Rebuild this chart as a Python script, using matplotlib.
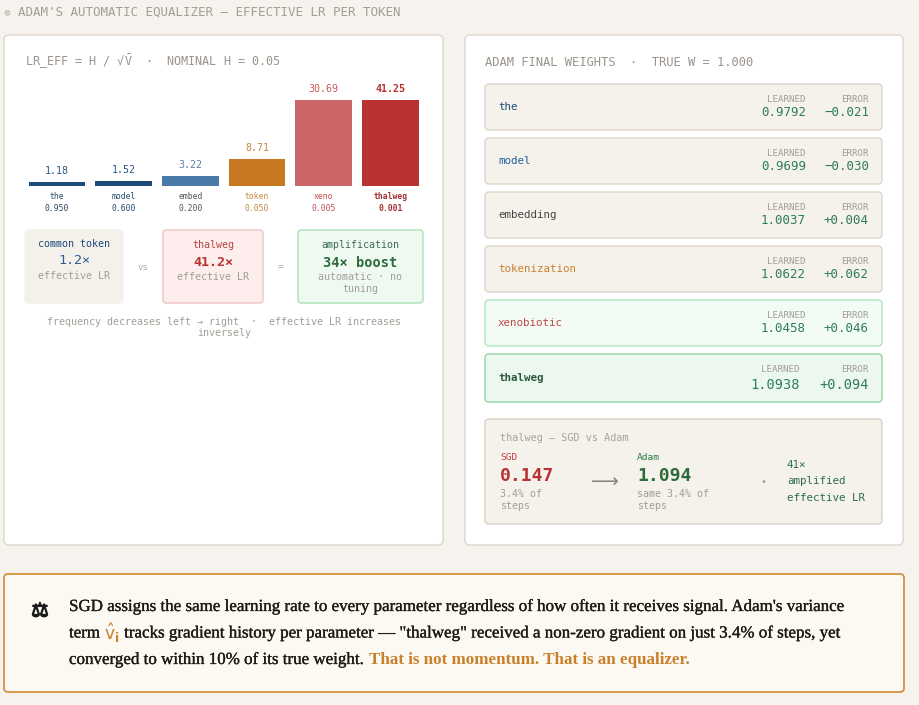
import matplotlib
matplotlib.use("Agg")
import matplotlib.pyplot as plt
from matplotlib.patches import FancyBboxPatch
import matplotlib.patheffects as pe
import numpy as np

# ---------------- data ----------------
tokens_short = ["the", "model", "embed", "token", "xeno", "thalweg"]
tokens_full = ["the", "model", "embedding", "tokenization", "xenobiotic", "thalweg"]
frequency = [0.950, 0.600, 0.200, 0.050, 0.005, 0.001]
effective_lr = [1.18, 1.52, 3.22, 8.71, 30.69, 41.25]
learned_w = [0.9792, 0.9699, 1.0037, 1.0622, 1.0458, 1.0938]
error_w = [-0.021, -0.030, 0.004, 0.062, 0.046, 0.094]
nominal_h = 0.05
true_w = 1.000
common_mult = 1.2
thalweg_mult = 41.2
boost = 34
sgd_thalweg = 0.147
adam_thalweg = 1.094
nonzero_pct = 3.4
amplified = 41

# ---------------- style ----------------
W, H = 920, 705
BG = "#f6f3ee"
MONO = ["DejaVu Sans Mono", "DejaVu Sans"]
GRAY = "#a39d95"
GREEN = "#2e7d58"
bar_colors = ["#1e4a78", "#1e4a78", "#4a7ba8", "#c87820", "#c96565", "#b83232"]
lbl_colors = ["#2a5585", "#2a5585", "#5a7fa5", "#c8873a", "#c85a5a", "#b83232"]
tick_colors = ["#2f4a68", "#2a4a72", "#555555", "#c88a40", "#c05050", "#a03030"]
name_colors = ["#1e4a78", "#2060a0", "#444444", "#c88030", "#c04848", "#2d5a3c"]
bar_cap = 27.7  # display cap of the bar axis

fig = plt.figure(figsize=(W / 100, H / 100), dpi=100)
fig.patch.set_facecolor(BG)
ax = fig.add_axes([0, 0, 1, 1])
ax.set_xlim(0, W)
ax.set_ylim(H, 0)
ax.axis("off")


def rbox(x0, y0, x1, y1, fc, ec, r=4, lw=1.0):
    p = FancyBboxPatch((x0, y0), x1 - x0, y1 - y0,
                       boxstyle=f"round,pad=0,rounding_size={r}",
                       fc=fc, ec=ec, lw=lw)
    ax.add_patch(p)


def T(x, y, s, size, color, ha="left", va="center", weight="normal", family=MONO, **kw):
    return ax.text(x, y, s, fontsize=size, color=color, ha=ha, va=va,
                   fontweight=weight, family=family, **kw)


# ---------------- header ----------------
T(7, 12, "⊗", 8, "#b5afa6", ha="center")
T(18, 12, "ADAM'S AUTOMATIC EQUALIZER — EFFECTIVE LR PER TOKEN", 9.0, GRAY)

# ---------------- panels ----------------
rbox(4, 35, 443, 545, "white", "#ddd6cc", r=5)
rbox(465, 35, 903, 545, "white", "#ddd6cc", r=5)

T(25, 62, "LR_EFF = H / √" + r"$\bar{\mathtt{V}}$" + f"  ·  NOMINAL H = {nominal_h:.2f}",
  8.5, "#9a948c")

# ---------------- bar chart ----------------
pitch = 66.7
left_px = 23.6
axb = fig.add_axes([left_px / W, (H - 186) / H, 6 * pitch / W, 86 / H])
axb.set_facecolor("none")
x = np.arange(len(tokens_short))
axb.bar(x, np.minimum(effective_lr, bar_cap), width=0.85, color=bar_colors)
axb.set_xlim(-0.5, len(x) - 0.5)
axb.set_ylim(0, bar_cap)
for s in axb.spines.values():
    s.set_visible(False)
axb.set_yticks([])
axb.set_xticks(x, labels=[f"{n}\n{f:.3f}" for n, f in zip(tokens_short, frequency)])
axb.tick_params(axis="x", length=0, pad=4.2)
for i, tl in enumerate(axb.get_xticklabels()):
    tl.set_color(tick_colors[i])
    tl.set_fontsize(5.8)
    tl.set_family(MONO)
    tl.set_linespacing(1.45)
    if i == len(x) - 1:
        tl.set_fontweight("bold")
for i, v in enumerate(effective_lr):
    axb.annotate(f"{v:.2f}", (i, min(v, bar_cap)), xytext=(0, 8),
                 textcoords="offset points", ha="center", va="center",
                 fontsize=7.2, color=lbl_colors[i], family=MONO,
                 fontweight="bold" if i == len(x) - 1 else "normal",
                 annotation_clip=False)

# ---------------- comparison boxes ----------------
rbox(25, 230, 123, 303, "#f4f1eb", "#f4f1eb", r=3)
T(74, 244, "common token", 7.2, "#1e4a78", ha="center")
T(74, 261, f"{common_mult:.1f}×", 9.6, "#2a5d8f", ha="center")
T(74, 276, "effective LR", 7.2, GRAY, ha="center")
T(143, 267, "vs", 6.5, "#b0aaa0", ha="center")

rbox(163, 230, 263, 303, "#fdeeed", "#efc4c4", r=3)
T(213, 245, "thalweg", 7.2, "#b84545", ha="center")
T(213, 262, f"{thalweg_mult:.1f}×", 9.6, "#b83232", ha="center", weight="bold")
T(213, 277, "effective LR", 7.2, GRAY, ha="center")
T(281, 267, "=", 7, "#b0aaa0", ha="center")

rbox(298, 230, 423, 303, "#eefaf1", "#a9e2b6", r=3)
T(360.5, 245, "amplification", 7.2, "#3d6b55", ha="center")
T(360.5, 263, f"{boost}× boost", 9.8, "#2d6b3c", ha="center", weight="bold")
T(360.5, 277, "automatic · no", 7.2, GRAY, ha="center")
T(360.5, 289, "tuning", 7.2, GRAY, ha="center")

T(224, 322, "frequency decreases left → right  ·  effective LR increases", 7.2, GRAY, ha="center")
T(224, 333, "inversely", 7.2, GRAY, ha="center")

# ---------------- right panel ----------------
T(485, 62, f"ADAM FINAL WEIGHTS  ·  TRUE W = {true_w:.3f}", 8.7, "#9a948c")

row_fc = ["#f5f2ec"] * 4 + ["#f3fbf5", "#ecf8ef"]
row_ec = ["#ddd5cb"] * 4 + ["#aee5bd", "#8fd6a0"]
for i, (name, lw_, er) in enumerate(zip(tokens_full, learned_w, error_w)):
    top = 84 + 54 * i
    last = i == len(tokens_full) - 1
    h = 48 if last else 46
    rbox(485, top, 882, top + h, row_fc[i], row_ec[i], r=4)
    T(498, top + h / 2, name, 7.8, name_colors[i], weight="bold" if last else "normal")
    lx = 800 if last else 806
    vy = top + 31 if last else top + 29
    vs = 9.8 if last else 9.0
    T(lx, top + 15, "LEARNED", 6.6, GRAY, ha="right")
    T(869, top + 15, "ERROR", 6.6, GRAY, ha="right")
    T(lx, vy, f"{lw_:.4f}", vs, GREEN, ha="right")
    T(869, vy, f"{er:+.3f}".replace("-", "−"), vs, GREEN, ha="right")

rbox(485, 419, 882, 524, "#f5f2ec", "#d9d1c6", r=4)
T(500, 438, "thalweg — SGD vs Adam", 7.3, "#a8a29a")
T(500, 458, "SGD", 6.8, "#c04040")
T(500, 476, f"{sgd_thalweg:.3f}", 13, "#b83232", weight="bold")
T(500, 494, f"{nonzero_pct}% of", 7.2, GRAY)
T(500, 506, "steps", 7.2, GRAY)
T(605, 482, "⟶", 14, "#8a847c", ha="center", family=["DejaVu Sans"])
T(637, 458, "Adam", 6.8, "#2d7a4a")
T(637, 476, f"{adam_thalweg:.3f}", 13, "#2d6b3c", weight="bold")
T(637, 494, f"same {nonzero_pct}% of", 7.2, GRAY)
T(637, 506, "steps", 7.2, GRAY)
T(763, 482, "•", 7, "#a8a29a", ha="center")
T(787, 465, f"{amplified}×", 7.8, "#2d6b55")
T(787, 481, "amplified", 7.8, "#2d6b55")
T(787, 498, "effective LR", 7.8, "#2d6b55")

# ---------------- bottom note ----------------
rbox(4, 574, 904, 692, "#fcf8f2", "#d08a30", r=4, lw=1.2)
T(40, 611, "⚖", 14, "#1a1a1a", ha="center", family=["DejaVu Sans"],
  path_effects=[pe.withStroke(linewidth=1.0, foreground="#1a1a1a")])

SERIF = ["Liberation Serif", "DejaVu Serif"]
DARK = "#1f1a14"
ORANGE = "#c8802a"
semi = [pe.withStroke(linewidth=0.22, foreground=DARK)]
renderer = fig.canvas.get_renderer()

line1 = ("SGD assigns the same learning rate to every parameter regardless of how "
         "often it receives signal. Adam's variance")
probe = ax.text(0, 0, line1, fontsize=10, family=SERIF, fontweight="normal")
w10 = probe.get_window_extent(renderer).width
probe.remove()
fs = 10 * 776 / w10


def width(s, **kw):
    t = ax.text(0, 0, s, fontsize=fs, family=SERIF, **kw)
    w = t.get_window_extent(renderer).width
    t.remove()
    return w


sp = width("x x") - width("xx")
x0 = 69
ax.text(x0, 607, line1, fontsize=fs, family=SERIF, color=DARK, va="center", path_effects=semi)

seg = "term"
ax.text(x0, 633.5, seg, fontsize=fs, family=SERIF, color=DARK, va="center", path_effects=semi)
xx = x0 + width(seg) + sp
vt = ax.text(xx, 633.5, r"$\hat{\mathrm{v}}_\mathbf{i}$", fontsize=fs, color=ORANGE, va="center")
xx += vt.get_window_extent(renderer).width + sp
ax.text(xx, 633.5, "tracks gradient history per parameter — \"thalweg\" received a non-zero "
        f"gradient on just {nonzero_pct}% of steps, yet", fontsize=fs, family=SERIF,
        color=DARK, va="center", path_effects=semi)

seg = "converged to within 10% of its true weight."
ax.text(x0, 660, seg, fontsize=fs, family=SERIF, color=DARK, va="center", path_effects=semi)
xx = x0 + width(seg) + sp
ax.text(xx, 660, "That is not momentum. That is an equalizer.", fontsize=fs,
        family=SERIF, color=ORANGE, va="center", fontweight="bold")

fig.savefig("out.png", dpi=100, facecolor=BG)
